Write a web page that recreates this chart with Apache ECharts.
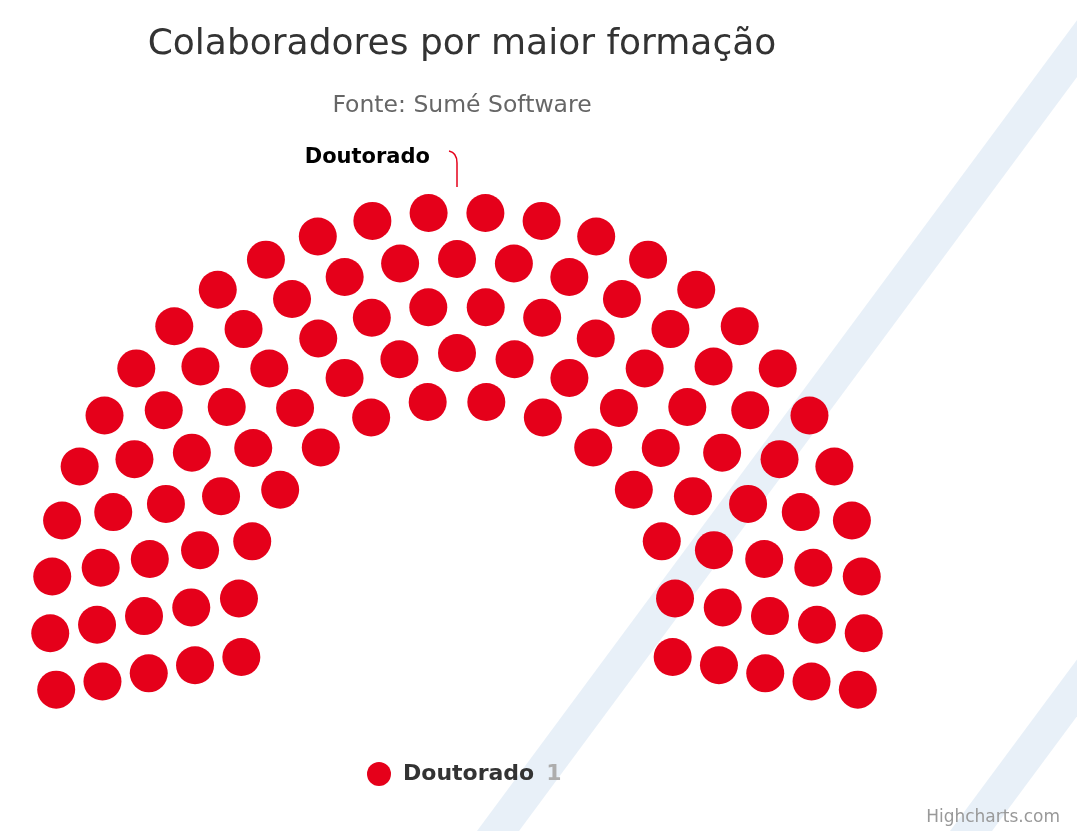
<!DOCTYPE html>
<html>
<head>
<meta charset="utf-8">
<script src="https://cdn.jsdelivr.net/npm/echarts@6/dist/echarts.min.js"></script>
<style>
  html, body { margin: 0; padding: 0; background: #ffffff; }
  #chart { width: 1077px; height: 831px; }
</style>
</head>
<body>
<div id="chart"></div>
<script>
// Chart text
const titleText = 'Colaboradores por maior formação';
const subtitleText = 'Fonte: Sumé Software';
const creditsText = 'Highcharts.com';

// Series: one category with its stated value
const categories = ['Doutorado'];
const values = [1];
const seriesColors = ['#e5001a'];

// Seats per ring of the hemicycle, inner ring first
const ringSeats = [14, 17, 20, 23, 26];

const FONT = '"DejaVu Sans", Verdana, sans-serif';

// Seats of each ring are spread evenly along the arc:
// radius = ring index, angle = position 0..1 from the left end to the right end
const seatData = [];
ringSeats.forEach(function (n, ring) {
  for (let j = 0; j < n; j++) {
    seatData.push([ring, j / (n - 1)]);
  }
});

const chart = echarts.init(document.getElementById('chart'), null, { renderer: 'canvas' });

// Arc covers 200 degrees; the angle axis spans a full turn
const ARC_DEG = 200;

const option = {
  backgroundColor: '#ffffff',
  animation: false,
  title: [
    {
      text: titleText,
      left: 457,
      top: 22,
      textAlign: 'center',
      textStyle: { fontFamily: FONT, fontSize: 36, fontWeight: 'normal', color: '#333333' }
    },
    {
      text: subtitleText,
      left: 457,
      top: 89,
      textAlign: 'center',
      textStyle: { fontFamily: FONT, fontSize: 23.5, fontWeight: 'normal', color: '#666666' }
    }
  ],
  legend: {
    data: [categories[0]],
    left: 362,
    top: 757,
    icon: 'circle',
    itemWidth: 24,
    itemHeight: 24,
    selectedMode: false,
    formatter: function (name) {
      const i = categories.indexOf(name);
      return '{n|' + name + '}{v|' + values[i] + '}';
    },
    textStyle: {
      fontFamily: FONT,
      rich: {
        n: { fontFamily: FONT, fontSize: 22, fontWeight: 'bold', color: '#333333', padding: [0, 0, 0, 7] },
        v: { fontFamily: FONT, fontSize: 22, fontWeight: 'bold', color: '#adadad', padding: [0, 0, 0, 12] }
      }
    }
  },
  polar: {
    center: [457, 619],
    radius: [219, 407]
  },
  radiusAxis: {
    type: 'value',
    min: 0,
    max: ringSeats.length - 1,
    show: false
  },
  angleAxis: {
    type: 'value',
    min: 0,
    max: 360 / ARC_DEG,
    startAngle: 90 + ARC_DEG / 2,
    clockwise: true,
    show: false
  },
  series: [
    {
      name: categories[0],
      type: 'scatter',
      coordinateSystem: 'polar',
      symbol: 'circle',
      symbolSize: 38,
      itemStyle: { color: seriesColors[0], opacity: 1 },
      data: seatData,
      silent: true
    }
  ],
  graphic: [
    // diagonal background bands
    {
      id: 'band1', type: 'polygon', z: -10, silent: true,
      shape: { points: [[477, 831], [519, 831], [1134, 0], [1092, 0]] },
      style: { fill: '#e8f0f8' }
    },
    {
      id: 'band2', type: 'polygon', z: -10, silent: true,
      shape: { points: [[950, 831], [992, 831], [1607, 0], [1565, 0]] },
      style: { fill: '#e8f0f8' }
    },
    {
      id: 'credits', type: 'text', right: 17, top: 809,
      style: { text: creditsText, font: '17px ' + FONT, fill: '#999999' }
    }
  ]
};

chart.setOption(option);

// Data label with connector above the middle of the outer ring
const arcTop = chart.convertToPixel({ seriesIndex: 0 }, [ringSeats.length - 1, 0.5]);
const ax = arcTop[0], ay = arcTop[1] - 25;
chart.setOption({
  graphic: [
    {
      id: 'connectorStem', type: 'line', silent: true,
      shape: { x1: ax, y1: ay, x2: ax, y2: ay - 24 },
      style: { stroke: seriesColors[0], lineWidth: 1.5 }
    },
    {
      id: 'connectorHook', type: 'bezierCurve', silent: true,
      shape: {
        x1: ax, y1: ay - 24,
        cpx1: ax, cpy1: ay - 31,
        cpx2: ax - 3, cpy2: ay - 35,
        x2: ax - 8, y2: ay - 36
      },
      style: { stroke: seriesColors[0], lineWidth: 1.5, fill: null }
    },
    {
      id: 'labelText', type: 'text', silent: true,
      x: ax - 27, y: ay - 29,
      style: {
        text: categories[0],
        font: 'bold 21px ' + FONT,
        fill: '#000000',
        align: 'right',
        verticalAlign: 'middle',
        stroke: '#ffffff',
        lineWidth: 2
      }
    }
  ]
});
</script>
</body>
</html>
